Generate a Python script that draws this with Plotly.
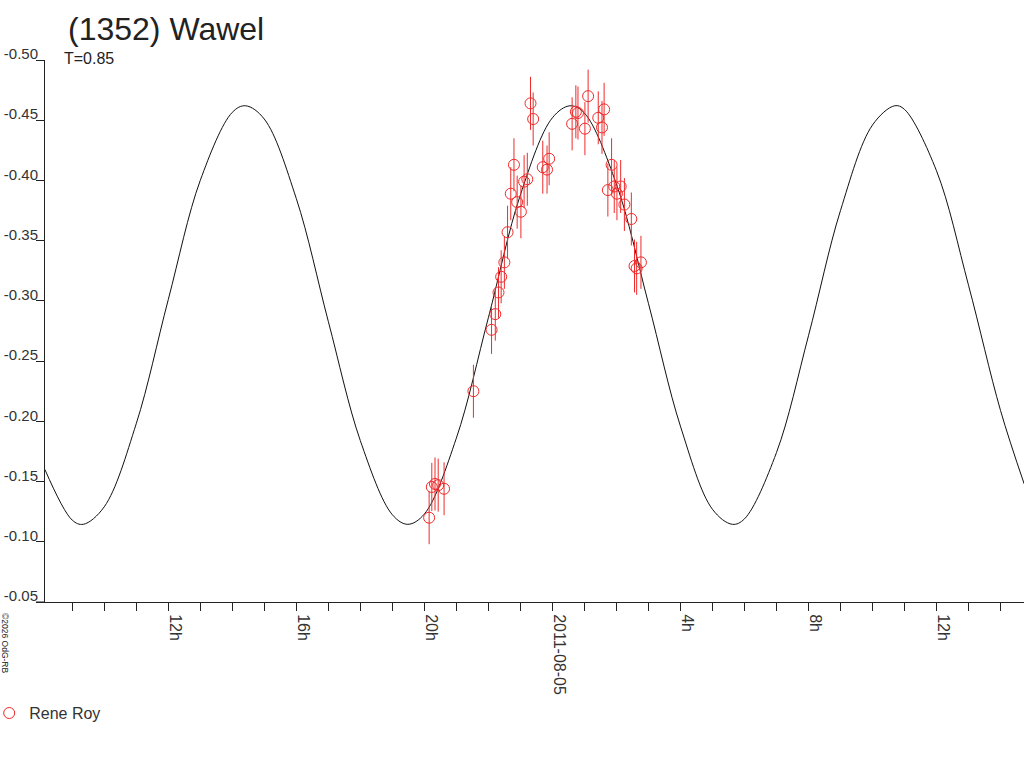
import pandas as pd
import plotly.graph_objects as go

# observations (Rene Roy), reduced magnitude
obs_time = [
    "2011-08-04 20:09", "2011-08-04 20:14", "2011-08-04 20:20", "2011-08-04 20:26",
    "2011-08-04 20:37", "2011-08-04 21:32", "2011-08-04 22:06", "2011-08-04 22:13",
    "2011-08-04 22:19", "2011-08-04 22:24", "2011-08-04 22:30", "2011-08-04 22:36",
    "2011-08-04 22:42", "2011-08-04 22:48", "2011-08-04 22:54", "2011-08-04 23:01",
    "2011-08-04 23:07", "2011-08-04 23:13", "2011-08-04 23:19", "2011-08-04 23:24",
    "2011-08-04 23:42", "2011-08-04 23:50", "2011-08-04 23:54",
    "2011-08-05 00:37", "2011-08-05 00:44", "2011-08-05 00:48", "2011-08-05 01:01",
    "2011-08-05 01:07", "2011-08-05 01:26", "2011-08-05 01:33", "2011-08-05 01:37",
    "2011-08-05 01:44", "2011-08-05 01:51", "2011-08-05 01:56", "2011-08-05 02:01",
    "2011-08-05 02:08", "2011-08-05 02:15", "2011-08-05 02:28", "2011-08-05 02:34",
    "2011-08-05 02:38", "2011-08-05 02:46",
]
obs_mag = [
    -0.120, -0.1455, -0.148, -0.147, -0.144, -0.225, -0.276, -0.289,
    -0.307, -0.320, -0.332, -0.357, -0.389, -0.413, -0.382, -0.374,
    -0.399, -0.401, -0.464, -0.451, -0.411, -0.409, -0.418,
    -0.447, -0.457, -0.456, -0.443, -0.470, -0.452, -0.444, -0.459,
    -0.392, -0.413, -0.395, -0.389, -0.395, -0.380, -0.368, -0.329,
    -0.327, -0.332,
]
obs_err = [
    0.022, 0.020, 0.022, 0.022, 0.022, 0.022, 0.020, 0.022,
    0.021, 0.022, 0.022, 0.022, 0.022, 0.022, 0.022, 0.022,
    0.022, 0.022, 0.022, 0.022, 0.022, 0.020, 0.022,
    0.022, 0.022, 0.022, 0.022, 0.022, 0.022, 0.022, 0.022,
    0.022, 0.022, 0.022, 0.022, 0.022, 0.022, 0.022, 0.022,
    0.022, 0.022,
]

# fitted curve, hours since 2011-08-04 00:00
curve_hours = [
    8.147, 9, 9.344, 10, 11, 12, 13, 14, 14.414, 15, 16, 17, 18, 19, 19.484,
    20, 21, 22, 23, 24, 24.554, 25, 26, 27, 28, 29, 29.624, 30, 31, 32, 33,
    34, 34.694, 35, 36, 37, 38, 38.74,
]
curve_mag = [
    -0.160, -0.118, -0.1145, -0.129, -0.198, -0.301, -0.400, -0.4565, -0.462,
    -0.451, -0.385, -0.283, -0.184, -0.1225, -0.1145, -0.123, -0.186, -0.286,
    -0.388, -0.452, -0.462, -0.456, -0.397, -0.298, -0.196, -0.127, -0.1145,
    -0.119, -0.174, -0.271, -0.375, -0.446, -0.462, -0.459, -0.408, -0.313,
    -0.209, -0.148,
]

tick_vals = ["2011-08-04 12:00", "2011-08-04 16:00", "2011-08-04 20:00",
             "2011-08-05 00:00", "2011-08-05 04:00", "2011-08-05 08:00",
             "2011-08-05 12:00"]
tick_text = ["12h", "16h", "20h", "2011-08-05", "4h", "8h", "12h"]
y_ticks = [-0.50, -0.45, -0.40, -0.35, -0.30, -0.25, -0.20, -0.15, -0.10, -0.05]

base = pd.Timestamp("2011-08-04")
curve_time = [base + pd.Timedelta(hours=h) for h in curve_hours]

RED = "#ee2b2b"
FONT = "Liberation Sans, Arial, sans-serif"

fig = go.Figure()

fig.add_trace(go.Scatter(
    x=curve_time, y=curve_mag,
    mode="lines",
    line=dict(color="#111111", width=1, shape="spline", smoothing=1.0),
    hoverinfo="skip",
    showlegend=False
))

fig.add_trace(go.Scatter(
    x=pd.to_datetime(obs_time), y=obs_mag,
    mode="markers",
    name="Rene Roy",
    marker=dict(symbol="circle-open", size=11, color=RED, line=dict(width=1, color=RED)),
    error_y=dict(type="data", array=obs_err, color=RED, thickness=1, width=0),
))

fig.update_layout(
    width=1024, height=768,
    margin=dict(l=45, r=0, t=60, b=166, autoexpand=False),
    paper_bgcolor="white", plot_bgcolor="white",
    font=dict(family=FONT, size=16, color="#333333"),
    showlegend=True,
    legend=dict(x=-0.057, y=-0.205, xanchor="left", yanchor="middle",
                bgcolor="rgba(0,0,0,0)", font=dict(size=16, color="#333333")),
    xaxis=dict(
        type="date",
        range=["2011-08-04 08:09", "2011-08-05 14:44"],
        showgrid=False, zeroline=False, automargin=False,
        showline=True, linecolor="#222222", linewidth=1,
        ticks="outside", ticklen=8, tickcolor="#222222",
        tickvals=tick_vals, ticktext=tick_text,
        tickangle=90, ticklabelshift=7,
        minor=dict(ticks="outside", ticklen=8, tickcolor="#222222",
                   dtick=3600000, tick0="2011-08-04 00:00", showgrid=False),
    ),
    yaxis=dict(
        range=[-0.05, -0.50],
        showgrid=False, zeroline=False, automargin=False,
        showline=True, linecolor="#222222", linewidth=1,
        ticks="outside", ticklen=8, tickcolor="#222222",
        tickvals=y_ticks, ticktext=[f"{v:.2f}" for v in y_ticks],
        tickfont=dict(size=15),
        ticklabelshift=6, ticklabelstandoff=-5,
    ),
)

fig.add_annotation(text="(1352) Wawel", xref="paper", yref="paper",
                   x=0.021, y=1.094, xanchor="left", yanchor="top", showarrow=False,
                   font=dict(size=32, color="#222222"))
fig.add_annotation(text="T=0.85", xref="paper", yref="paper",
                   x=0.017, y=1.022, xanchor="left", yanchor="top", showarrow=False,
                   font=dict(size=16, color="#222222"))
fig.add_annotation(text="©2026 OdG-RB", xref="paper", yref="paper",
                   x=-0.0409, y=-0.0756, xanchor="center", yanchor="middle",
                   textangle=90, showarrow=False,
                   font=dict(size=8.5, color="#222222"))

# x axis line runs a little past the y axis on the left
fig.add_shape(type="line", xref="paper", yref="paper", x0=-0.0092, x1=0, y0=0, y1=0,
              line=dict(color="#222222", width=1))

# page body margin would push the 1024x768 figure off the window
fig.write_html("out.html", config={"displayModeBar": False},
               post_script="document.body.style.margin='0';")
